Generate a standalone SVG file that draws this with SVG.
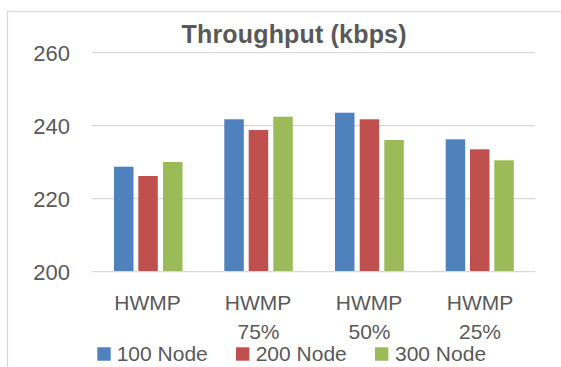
<svg xmlns="http://www.w3.org/2000/svg" width="561" height="367" viewBox="0 0 561 367">
<style>
.t{font-family:"Liberation Sans",Arial,sans-serif;fill:#595959}
.tick{font-size:22px;text-anchor:end}
.cat{font-size:21px;text-anchor:middle}
.leg{font-size:21px}
.grid{stroke:#D9D9D9;stroke-width:1.3}
.b{fill:#4F81BD}.r{fill:#C0504D}.g{fill:#9BBB59}
</style>
<rect width="561" height="367" fill="#fff"/>
<rect id="frame" x="7.5" y="11.5" width="560" height="370" fill="none" stroke="#D9D9D9" stroke-width="1.3"/>
<text id="title" class="t" x="294" y="43.3" font-size="25" font-weight="bold" text-anchor="middle" textLength="225">Throughput (kbps)</text>
<g id="gridlines">
<line class="grid" x1="92" y1="52.7" x2="535" y2="52.7"/>
<line class="grid" x1="92" y1="125.7" x2="535" y2="125.7"/>
<line class="grid" x1="92" y1="198.7" x2="535" y2="198.7"/>
</g>
<g id="yaxis" class="t tick">
<text x="70" y="61">260</text>
<text x="70" y="134">240</text>
<text x="70" y="207">220</text>
<text x="70" y="280">200</text>
</g>
<g id="bars">
<rect class="b" x="114" y="166.7" width="19.5" height="104.5"/>
<rect class="r" x="138.3" y="176" width="19.5" height="95.2"/>
<rect class="g" x="163" y="162" width="19.5" height="109.2"/>
<rect class="b" x="224.3" y="119.3" width="19.5" height="151.9"/>
<rect class="r" x="248.7" y="130" width="19.5" height="141.2"/>
<rect class="g" x="273.3" y="116.7" width="19.5" height="154.5"/>
<rect class="b" x="335" y="112.7" width="19.5" height="158.5"/>
<rect class="r" x="359.7" y="119.3" width="19.5" height="151.9"/>
<rect class="g" x="384.3" y="140" width="19.5" height="131.2"/>
<rect class="b" x="445.7" y="139.3" width="19.5" height="131.9"/>
<rect class="r" x="470" y="149.3" width="19.5" height="121.9"/>
<rect class="g" x="494.3" y="160.3" width="19.5" height="110.9"/>
</g>
<line id="xaxis" class="grid" x1="92" y1="271.7" x2="535" y2="271.7"/>
<g id="categories" class="t cat">
<text x="147.5" y="310">HWMP</text>
<text x="258" y="310">HWMP</text>
<text x="258.5" y="339.3">75%</text>
<text x="369" y="310">HWMP</text>
<text x="369.5" y="339.3">50%</text>
<text x="480" y="310">HWMP</text>
<text x="480" y="339.3">25%</text>
</g>
<g id="legend">
<rect class="b" x="97.3" y="347.3" width="13.4" height="13.4"/>
<text class="t leg" x="116.7" y="361">100 Node</text>
<rect class="r" x="236" y="347.3" width="13.4" height="13.4"/>
<text class="t leg" x="255.7" y="361">200 Node</text>
<rect class="g" x="375" y="347.3" width="13.4" height="13.4"/>
<text class="t leg" x="395" y="361">300 Node</text>
</g>
</svg>
